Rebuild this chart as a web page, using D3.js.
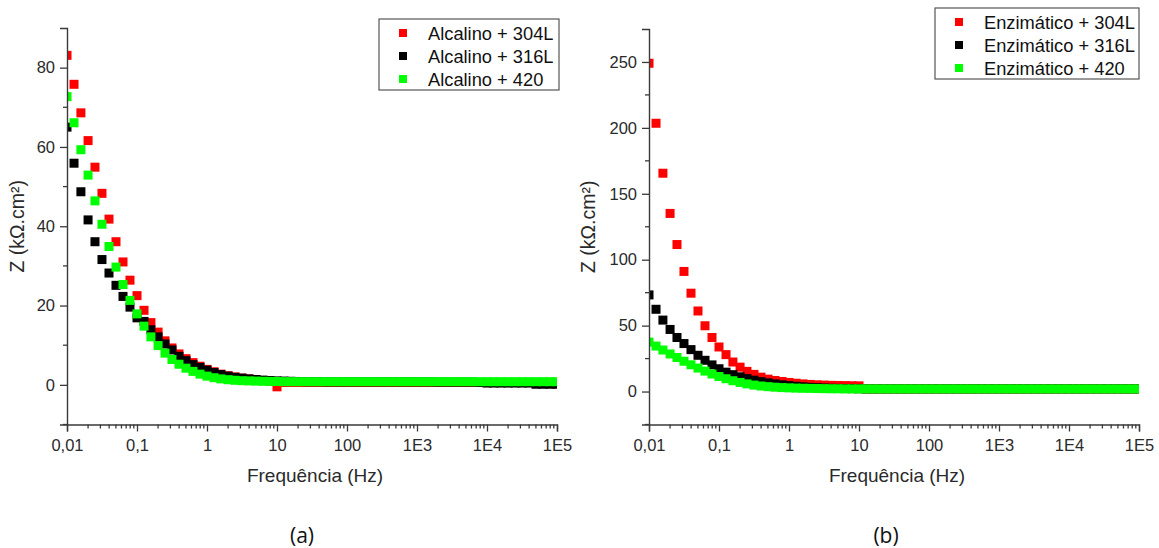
<!DOCTYPE html>
<html>
<head>
<meta charset="utf-8">
<script src="https://cdn.jsdelivr.net/npm/d3@7/dist/d3.min.js"></script>
<style>
  html, body { margin: 0; padding: 0; background: #fff; }
  svg { display: block; font-family: "Liberation Sans", Arial, sans-serif; }
</style>
</head>
<body>
<svg id="chart" width="1159" height="548"></svg>
<script>
// Measurement frequencies (Hz), ten per decade from 0.01 Hz to 100 kHz
const freqs = [
  0.01, 0.0126, 0.0158, 0.02, 0.0251, 0.0316, 0.0398, 0.0501, 0.0631, 0.0794,
  0.1, 0.126, 0.158, 0.2, 0.251, 0.316, 0.398, 0.501, 0.631, 0.794,
  1, 1.26, 1.58, 2, 2.51, 3.16, 3.98, 5.01, 6.31, 7.94,
  10, 12.6, 15.8, 20, 25.1, 31.6, 39.8, 50.1, 63.1, 79.4,
  100, 126, 158, 200, 251, 316, 398, 501, 631, 794,
  1000, 1260, 1580, 2000, 2510, 3160, 3980, 5010, 6310, 7940,
  10000, 12600, 15800, 20000, 25100, 31600, 39800, 50100, 63100, 79400,
  100000
];

// Panel (a): alkaline medium, |Z| in kΩ.cm²
const alcalino304L = [
  83.1, 75.8, 68.6, 61.6, 54.9, 48.3, 41.8, 36.1, 31.0, 26.4,
  22.5, 18.8, 15.7, 13.3, 11.1, 9.3, 7.8, 6.6, 5.6, 4.7,
  3.9, 3.3, 2.7, 2.3, 2.0, 1.7, 1.5, 1.3, 1.1, 0.9,
  -0.5, 0.6, 0.6, 0.6, 0.6, 0.6, 0.6, 0.6, 0.6, 0.6,
  0.6, 0.6, 0.6, 0.6, 0.6, 0.6, 0.6, 0.6, 0.6, 0.6,
  0.6, 0.6, 0.6, 0.6, 0.6, 0.6, 0.6, 0.6, 0.6, 0.6,
  0.6, 0.6, 0.6, 0.6, 0.6, 0.6, 0.6, 0.6, 0.6, 0.6,
  0.6
];
const alcalino316L = [
  65.0, 55.9, 48.7, 41.6, 36.1, 31.6, 28.2, 25.1, 22.3, 19.6,
  16.9, 16.0, 13.9, 12.1, 10.3, 8.8, 7.2, 6.1, 5.1, 4.4,
  3.7, 3.1, 2.6, 2.2, 1.9, 1.7, 1.5, 1.35, 1.2, 1.1,
  1.0, 0.95, 0.9, 0.85, 0.8, 0.8, 0.8, 0.75, 0.75, 0.75,
  0.75, 0.75, 0.75, 0.75, 0.75, 0.75, 0.75, 0.75, 0.75, 0.75,
  0.75, 0.75, 0.75, 0.7, 0.7, 0.7, 0.7, 0.7, 0.7, 0.6,
  0.45, 0.45, 0.45, 0.45, 0.45, 0.45, 0.45, 0.15, 0.15, 0.15,
  0.15
];
const alcalino420 = [
  72.7, 66.1, 59.3, 52.9, 46.4, 40.5, 34.9, 29.7, 25.3, 21.3,
  17.9, 14.8, 12.1, 9.9, 8.0, 6.4, 5.2, 4.2, 3.4, 2.7,
  2.2, 1.8, 1.5, 1.3, 1.15, 1.05, 1.0, 0.95, 0.9, 0.88,
  0.85, 0.8, 0.8, 0.8, 0.8, 0.8, 0.8, 0.8, 0.8, 0.8,
  0.8, 0.8, 0.8, 0.8, 0.8, 0.8, 0.8, 0.8, 0.8, 0.8,
  0.8, 0.8, 0.8, 0.8, 0.8, 0.8, 0.8, 0.8, 0.8, 0.8,
  0.8, 0.8, 0.8, 0.8, 0.8, 0.8, 0.8, 0.8, 0.8, 0.8,
  0.8
];

// Panel (b): enzymatic medium, |Z| in kΩ.cm²
const enzimatico304L = [
  249.0, 203.5, 165.6, 135.1, 111.5, 91.1, 74.6, 61.1, 49.9, 41.0,
  33.8, 28.0, 22.4, 18.5, 15.3, 13.0, 10.9, 9.4, 8.4, 7.6,
  6.9, 6.3, 5.8, 5.4, 5.1, 4.9, 4.7, 4.6, 4.5, 4.4,
  4.3, 2.0, 2.0, 2.0, 2.0, 2.0, 2.0, 2.0, 2.0, 2.0,
  2.0, 2.0, 2.0, 2.0, 2.0, 2.0, 2.0, 2.0, 2.0, 2.0,
  2.0, 2.0, 2.0, 2.0, 2.0, 2.0, 2.0, 2.0, 2.0, 2.0,
  2.0, 2.0, 2.0, 2.0, 2.0, 2.0, 2.0, 2.0, 2.0, 2.0,
  2.0
];
const enzimatico316L = [
  73.3, 62.4, 54.2, 47.1, 41.0, 36.4, 31.8, 27.5, 23.7, 20.2,
  17.3, 14.7, 12.8, 11.2, 9.8, 8.6, 7.5, 6.6, 5.8, 5.1,
  4.5, 4.0, 3.6, 3.2, 2.9, 2.7, 2.5, 2.4, 2.3, 2.2,
  2.1, 2.0, 2.0, 2.0, 2.0, 2.0, 2.0, 2.0, 2.0, 2.0,
  2.0, 2.0, 2.0, 2.0, 2.0, 2.0, 2.0, 2.0, 2.0, 2.0,
  2.0, 2.0, 2.0, 2.0, 2.0, 2.0, 2.0, 2.0, 2.0, 2.0,
  2.0, 2.0, 2.0, 2.0, 2.0, 2.0, 2.0, 2.0, 2.0, 2.0,
  2.0
];
const enzimatico420 = [
  37.5, 34.5, 31.5, 28.5, 25.8, 23.0, 20.3, 17.8, 15.5, 13.3,
  11.4, 9.7, 8.2, 6.9, 5.8, 4.9, 4.2, 3.7, 3.3, 3.0,
  2.8, 2.6, 2.5, 2.4, 2.3, 2.2, 2.1, 2.1, 2.0, 2.0,
  2.0, 2.0, 2.0, 2.0, 2.0, 2.0, 2.0, 2.0, 2.0, 2.0,
  2.0, 2.0, 2.0, 2.0, 2.0, 2.0, 2.0, 2.0, 2.0, 2.0,
  2.0, 2.0, 2.0, 2.0, 2.0, 2.0, 2.0, 2.0, 2.0, 2.0,
  2.0, 2.0, 2.0, 2.0, 2.0, 2.0, 2.0, 2.0, 2.0, 2.0,
  2.0
];

// Axis ticks
const xTickValues = [0.01, 0.1, 1, 10, 100, 1000, 10000, 100000];
const xTickLabels = ["0,01", "0,1", "1", "10", "100", "1E3", "1E4", "1E5"];
const yTicksA = [0, 20, 40, 60, 80];
const yTicksB = [0, 50, 100, 150, 200, 250];

const seriesColors = ["#ff0000", "#000000", "#00ff00"];

const svg = d3.select("#chart");
const axisColor = "#3a3a3a";
const textColor = "#2a2a2a";

function drawPanel(opt) {
  const g = svg.append("g");
  const x = d3.scaleLog().domain([0.01, 100000]).range([opt.left, opt.right]);
  const y = d3.scaleLinear().domain(opt.yDomain).range([opt.bottom, opt.top]);

  const clipId = "clip-" + opt.id;
  svg.append("clipPath").attr("id", clipId)
    .append("rect")
    .attr("x", opt.left).attr("y", opt.top)
    .attr("width", opt.right - opt.left).attr("height", opt.bottom - opt.top);

  // Data markers
  const size = 9;
  const plot = g.append("g").attr("clip-path", `url(#${clipId})`);
  opt.series.forEach((s, k) => {
    plot.append("g").selectAll("rect")
      .data(freqs.map((f, i) => ({ f, z: s.values[i] })))
      .join("rect")
      .attr("x", d => x(d.f) - size / 2)
      .attr("y", d => y(d.z) - size / 2)
      .attr("width", size).attr("height", size)
      .attr("fill", seriesColors[k]);
  });

  // X axis with decade labels and minor ticks
  const xAxis = d3.axisBottom(x)
    .tickValues(xTickValues)
    .tickFormat((d, i) => xTickLabels[i])
    .tickSize(7).tickPadding(4);
  const gx = g.append("g").attr("transform", `translate(0,${opt.bottom})`).call(xAxis);
  const minorX = x.ticks().filter(t => !xTickValues.some(v => Math.abs(v - t) / v < 1e-6));
  gx.selectAll(".minor").data(minorX).join("line")
    .attr("class", "minor")
    .attr("x1", d => x(d)).attr("x2", d => x(d))
    .attr("y1", 0).attr("y2", 4);

  // Y axis
  const yAxis = d3.axisLeft(y).tickValues(opt.yTicks).tickSize(7).tickPadding(5);
  const gy = g.append("g").attr("transform", `translate(${opt.left},0)`).call(yAxis);
  gy.selectAll(".minor").data(opt.yMinor).join("line")
    .attr("class", "minor")
    .attr("x1", 0).attr("x2", -4)
    .attr("y1", d => y(d)).attr("y2", d => y(d));

  [gx, gy].forEach(a => {
    a.select(".domain").attr("stroke", axisColor).attr("stroke-width", 1.4);
    a.selectAll("line").attr("stroke", axisColor).attr("stroke-width", 1.3);
    a.selectAll("text").attr("fill", textColor)
      .style("font-family", "'Liberation Sans', Arial, sans-serif")
      .style("font-size", "16.5px");
  });
  gx.selectAll("text").attr("dy", "0.92em");

  // Axis titles
  g.append("text")
    .attr("x", (opt.left + opt.right) / 2 + 3).attr("y", 482)
    .attr("text-anchor", "middle").attr("fill", textColor)
    .style("font-size", "19px")
    .text("Frequência (Hz)");
  g.append("text")
    .attr("transform", `translate(${opt.yTitleX},${(opt.top + opt.bottom) / 2}) rotate(-90)`)
    .attr("text-anchor", "middle").attr("fill", textColor)
    .style("font-size", "19.5px")
    .text("Z (kΩ.cm²)");

  // Legend
  const lg = g.append("g");
  lg.append("rect")
    .attr("x", opt.legend.x).attr("y", opt.legend.y)
    .attr("width", opt.legend.w).attr("height", opt.legend.h)
    .attr("fill", "#fff").attr("stroke", "#555").attr("stroke-width", 1.2);
  opt.series.forEach((s, k) => {
    const cy = opt.legend.y + 14 + k * 23;
    lg.append("rect")
      .attr("x", opt.legend.x + 20).attr("y", cy - 4)
      .attr("width", 8).attr("height", 8)
      .attr("fill", seriesColors[k]);
    lg.append("text")
      .attr("x", opt.legend.x + 49).attr("y", cy + 6.5)
      .attr("fill", "#111")
      .style("font-size", "18.3px")
      .text(s.name);
  });

  // Panel tag
  g.append("text")
    .attr("x", opt.tagX).attr("y", 543)
    .attr("text-anchor", "middle").attr("fill", "#111")
    .style("font-family", "'Open Sans', sans-serif")
    .style("font-size", "21px")
    .text(opt.tag);
}

drawPanel({
  id: "a", left: 67, right: 557, top: 28, bottom: 424.5,
  yDomain: [-10, 90], yTicks: yTicksA, yMinor: [-10, 10, 30, 50, 70],
  yTitleX: 24, tagX: 302, tag: "(a)",
  legend: { x: 379, y: 19, w: 180, h: 71 },
  series: [
    { name: "Alcalino + 304L", values: alcalino304L },
    { name: "Alcalino + 316L", values: alcalino316L },
    { name: "Alcalino + 420", values: alcalino420 }
  ]
});

drawPanel({
  id: "b", left: 649, right: 1139, top: 29, bottom: 424.5,
  yDomain: [-25, 275], yTicks: yTicksB, yMinor: [-25, 25, 75, 125, 175, 225],
  yTitleX: 595, tagX: 886, tag: "(b)",
  legend: { x: 935, y: 8, w: 204, h: 71 },
  series: [
    { name: "Enzimático + 304L", values: enzimatico304L },
    { name: "Enzimático + 316L", values: enzimatico316L },
    { name: "Enzimático + 420", values: enzimatico420 }
  ]
});
</script>
</body>
</html>
